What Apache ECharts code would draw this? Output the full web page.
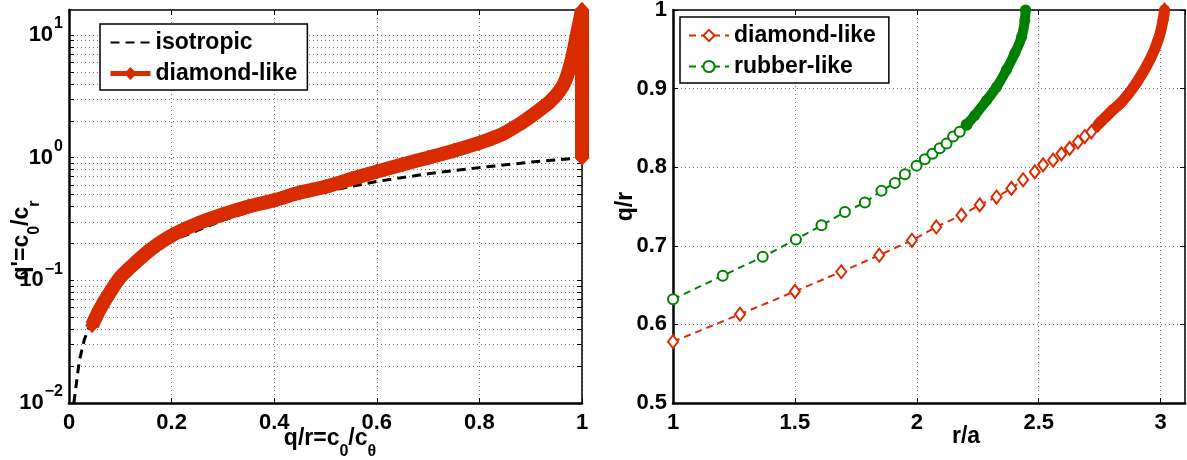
<!DOCTYPE html>
<html><head><meta charset="utf-8">
<script src="https://cdn.jsdelivr.net/npm/echarts@6/dist/echarts.min.js"></script>
<style>html,body{margin:0;padding:0;background:#fff}#c{width:1187px;height:460px}</style>
</head><body><div id="c"></div>
<script>
// ---------- Left panel data ----------
const isoX = [0.0095,0.02,0.03,0.045,0.07,0.1,0.15,0.2,0.3,0.4,0.5,0.6,0.7,0.8,0.9,1.0];
const isoY = [0.01,0.022,0.033,0.048,0.075,0.106,0.16,0.21,0.31,0.42,0.53,0.64,0.74,0.83,0.92,1.0];
const dlX  = [0.045,0.06,0.08,0.1,0.13,0.16,0.2,0.25,0.3,0.35,0.4,0.45,0.5,0.55,0.6,0.65,0.7,0.75,0.8,0.825,0.85,0.875,0.9,0.92,0.937,0.955,0.967,0.98,0.99,1.0];
const dlY  = [0.043,0.058,0.08,0.106,0.14,0.18,0.232,0.29,0.345,0.40,0.45,0.52,0.58,0.67,0.77,0.88,1.0,1.14,1.32,1.44,1.6,1.84,2.17,2.5,2.85,3.45,4.2,6.3,10,16];
const dlEdgeX = [1.0,1.0];
const dlEdgeY = [16,1.0];
const logLabelVals = [0.01,0.1,1,10];
const logTickVals = [0.01,0.02,0.03,0.04,0.05,0.06,0.07,0.08,0.09,0.1,0.2,0.3,0.4,0.5,0.6,0.7,0.8,0.9,1,2,3,4,5,6,7,8,9,10];

// ---------- Right panel data ----------
const dRX = [1.0,1.275,1.5,1.69,1.846,1.98,2.08,2.183,2.258,2.327,2.388,2.436,2.484,2.518,2.559,2.593,2.627,2.661,2.689,2.716,2.743];
const dRY = [0.578,0.613,0.642,0.667,0.688,0.707,0.724,0.739,0.752,0.762,0.773,0.784,0.794,0.803,0.809,0.817,0.824,0.832,0.839,0.845,0.854];
const dBandX = [2.743,2.791,2.846,2.9,2.955,2.99,3.01,3.016];
const dBandY = [0.854,0.869,0.885,0.907,0.936,0.962,0.987,1.0];
const rRX = [1.0,1.204,1.368,1.504,1.609,1.705,1.787,1.855,1.91,1.951,1.999,2.033,2.064,2.094,2.122,2.149,2.176,2.204];
const rRY = [0.632,0.662,0.686,0.708,0.726,0.743,0.755,0.770,0.780,0.791,0.802,0.810,0.817,0.824,0.830,0.839,0.845,0.854];
const rBandX = [2.204,2.238,2.286,2.327,2.368,2.402,2.43,2.443,2.446];
const rBandY = [0.854,0.866,0.885,0.902,0.924,0.945,0.966,0.987,1.0];

const FONT = "'Liberation Sans', Arial, Helvetica, sans-serif";
const RED = '#D92B00', GREEN = '#008000';
const pairs = (xs, ys) => xs.map((x, i) => [x, ys[i]]);

const dotted = {show: true, lineStyle: {color: '#777', width: 1, type: [1, 3]}};
const lbl = {fontFamily: FONT, fontWeight: 'bold', fontSize: 22, color: '#000'};
const tickIn = {show: true, inside: true, length: 5, lineStyle: {color: '#000', width: 1}};
const mainLine = {show: true, onZero: false, lineStyle: {color: '#000', width: 2.5}};
const thinLine = {show: true, onZero: false, lineStyle: {color: '#000', width: 1.5}};
// all tokens share the same total height (36) so alignment is decided by padding only
const nameRich = {
  n: {fontFamily: FONT, fontWeight: 'bold', fontSize: 23, color: '#000', lineHeight: 26, padding: [0, 0, 10, 0]},
  s: {fontFamily: FONT, fontWeight: 'bold', fontSize: 16, color: '#000', lineHeight: 16, padding: [18, 0, 2, 0]}
};
const plainName = {fontFamily: FONT, fontWeight: 'bold', fontSize: 23, color: '#000', lineHeight: 26};

const chart = echarts.init(document.getElementById('c'), null, {renderer: 'canvas'});
chart.setOption({
  backgroundColor: '#fff',
  animation: false,
  grid: [
    {left: 69, top: 10, width: 513, height: 393, outerBoundsMode: 'none', containLabel: false},
    {left: 673, top: 10, width: 512, height: 393, outerBoundsMode: 'none', containLabel: false}
  ],
  legend: [
    {
      left: 100, top: 24, orient: 'vertical', selectedMode: false,
      data: [{name: 'isotropic', itemStyle: {opacity: 0}}, {name: 'diamond-like', lineStyle: {width: 5}}],
      itemWidth: 40, itemHeight: 16, itemGap: 8, padding: [7, 10, 5, 8],
      borderColor: '#000', borderWidth: 1.5, backgroundColor: '#fff',
      textStyle: {fontFamily: FONT, fontWeight: 'bold', fontSize: 23, color: '#000', lineHeight: 22}
    },
    {
      left: 680, top: 17, orient: 'vertical', selectedMode: false,
      data: ['diamond-like (r/a)', 'rubber-like'],
      formatter: n => n.replace(' (r/a)', ''),
      itemWidth: 40, itemHeight: 14, itemGap: 8, padding: [7, 13, 5, 8],
      borderColor: '#000', borderWidth: 1.5, backgroundColor: '#fff',
      textStyle: {fontFamily: FONT, fontWeight: 'bold', fontSize: 23, color: '#000', lineHeight: 22}
    }
  ],
  xAxis: [
    {gridIndex: 0, type: 'value', min: 0, max: 1, interval: 0.2, position: 'bottom',
     axisLine: mainLine, axisTick: tickIn, splitLine: dotted,
     axisLabel: Object.assign({margin: 9}, lbl),
     name: "{n|q/r=c}{s|0}{n|/c}{s|θ}", nameLocation: 'middle', nameGap: 28, nameMoveOverlap: false,
     nameTextStyle: {rich: nameRich, padding: [0, 0, 0, 9]}},
    {gridIndex: 0, type: 'value', min: 0, max: 1, interval: 0.2, position: 'top',
     axisLine: thinLine, axisTick: tickIn, splitLine: {show: false}, axisLabel: {show: false}},
    {gridIndex: 1, type: 'value', min: 1, max: 3.1, interval: 0.5, position: 'bottom',
     axisLine: mainLine, axisTick: tickIn, splitLine: dotted,
     axisLabel: Object.assign({margin: 9, showMaxLabel: false}, lbl),
     name: 'r/a', nameLocation: 'middle', nameGap: 21, nameMoveOverlap: false,
     nameTextStyle: Object.assign({padding: [0, 0, 0, 74]}, plainName)},
    {gridIndex: 1, type: 'value', min: 1, max: 3.1, interval: 0.5, position: 'top',
     axisLine: thinLine, axisTick: tickIn, splitLine: {show: false}, axisLabel: {show: false}}
  ],
  yAxis: [
    {gridIndex: 0, type: 'log', logBase: 10, min: 0.01, max: 16, position: 'left',
     axisLine: mainLine, axisTick: Object.assign({customValues: logTickVals}, tickIn), splitLine: dotted,
     axisLabel: {customValues: logLabelVals, margin: 6,
       formatter: v => { const e = Math.round(Math.log10(v)); return '{b|10}{s|' + (e < 0 ? '\u2212' + (-e) : e) + '}'; },
       rich: {
         b: {fontFamily: FONT, fontWeight: 'bold', fontSize: 22, color: '#000', lineHeight: 22, padding: [8, 0, 8, 0]},
         s: {fontFamily: FONT, fontWeight: 'bold', fontSize: 16, color: '#000', lineHeight: 16, padding: [0, 0, 22, 1]}
       }},
     name: "{n|q'=c}{s|0}{n|/c}{s|r}", nameLocation: 'middle', nameGap: 29, nameRotate: 90, nameMoveOverlap: false,
     nameTextStyle: {rich: nameRich, padding: [0, 68, 0, 0]}},
    {gridIndex: 0, type: 'log', logBase: 10, min: 0.01, max: 16, position: 'right',
     axisLine: thinLine, axisTick: Object.assign({customValues: logTickVals}, tickIn),
     splitLine: {show: false}, axisLabel: {show: false}},
    {gridIndex: 1, type: 'value', min: 0.5, max: 1, interval: 0.1, position: 'left',
     axisLine: mainLine, axisTick: tickIn, splitLine: dotted,
     axisLabel: Object.assign({margin: 6}, lbl),
     name: 'q/r', nameLocation: 'middle', nameGap: 34, nameRotate: 90, nameMoveOverlap: false,
     nameTextStyle: plainName},
    {gridIndex: 1, type: 'value', min: 0.5, max: 1, interval: 0.1, position: 'right',
     axisLine: thinLine, axisTick: tickIn, splitLine: {show: false}, axisLabel: {show: false}}
  ],
  series: [
    {name: 'isotropic', type: 'line', xAxisIndex: 0, yAxisIndex: 0, data: pairs(isoX, isoY),
     symbol: 'none', color: '#000', lineStyle: {color: '#000', width: 3, type: [9, 6]}, z: 2},
    {name: 'diamond-like', type: 'line', xAxisIndex: 0, yAxisIndex: 0, data: pairs(dlX, dlY),
     symbol: 'diamond', symbolSize: [14, 16], showSymbol: true, clip: false, smooth: 0.3, color: RED,
     itemStyle: {color: RED}, lineStyle: {color: RED, width: 14, join: 'round'}, z: 3},
    {name: 'diamond-like edge', type: 'line', xAxisIndex: 0, yAxisIndex: 0, data: pairs(dlEdgeX, dlEdgeY),
     symbol: 'diamond', symbolSize: [15, 16], showSymbol: true, clip: false, color: RED,
     itemStyle: {color: RED}, lineStyle: {color: RED, width: 14}, z: 3},
    {name: 'diamond-like (r/a)', type: 'line', xAxisIndex: 2, yAxisIndex: 2, data: pairs(dRX, dRY),
     symbol: 'emptyDiamond', symbolSize: [10, 13], showSymbol: true, clip: false, color: RED,
     itemStyle: {color: RED, borderColor: RED, borderWidth: 2}, lineStyle: {color: RED, width: 2, type: [7, 5]}, z: 3},
    {name: 'diamond-like band', type: 'line', xAxisIndex: 2, yAxisIndex: 2, data: pairs(dBandX, dBandY),
     symbol: 'diamond', symbolSize: [12, 16], showSymbol: true, clip: false, smooth: true, color: RED,
     itemStyle: {color: RED}, lineStyle: {color: RED, width: 11, cap: 'round'}, z: 3},
    {name: 'rubber-like', type: 'line', xAxisIndex: 2, yAxisIndex: 2, data: pairs(rRX, rRY),
     symbol: 'emptyCircle', symbolSize: 10, showSymbol: true, clip: false, color: GREEN,
     itemStyle: {color: GREEN, borderColor: GREEN, borderWidth: 2}, lineStyle: {color: GREEN, width: 2, type: [7, 5]}, z: 3},
    {name: 'rubber-like band', type: 'line', xAxisIndex: 2, yAxisIndex: 2, data: pairs(rBandX, rBandY),
     symbol: 'circle', symbolSize: 11, showSymbol: true, clip: false, smooth: true, color: GREEN,
     itemStyle: {color: GREEN}, lineStyle: {color: GREEN, width: 10, cap: 'round'}, z: 3}
  ]
});
</script>
</body></html>
